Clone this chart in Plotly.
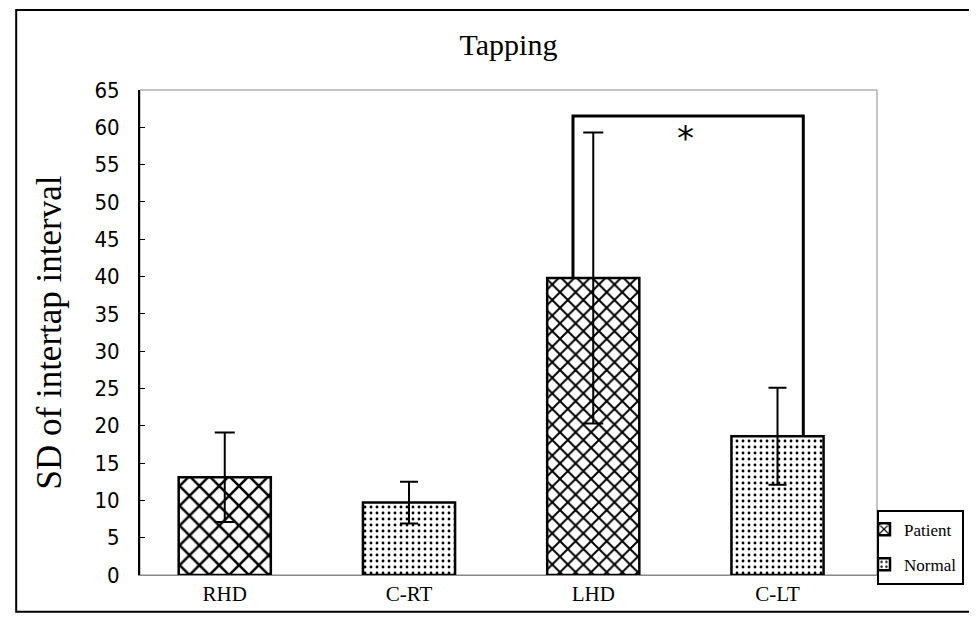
import plotly.graph_objects as go

categories = ["RHD", "C-RT", "LHD", "C-LT"]
patient_cats = ["RHD", "LHD"]
patient_vals = [13.1, 39.8]
patient_err = [6.0, 19.5]
normal_cats = ["C-RT", "C-LT"]
normal_vals = [9.7, 18.6]
normal_err = [2.8, 6.5]
y_ticks = list(range(0, 70, 5))
bracket_level = 61.5
star_label = "*"

serif = "Liberation Serif, Times New Roman, serif"
sans = "DejaVu Sans Condensed, Liberation Sans, Arial, sans-serif"

fig = go.Figure()
fig.add_trace(go.Bar(
    name="Patient", x=patient_cats, y=patient_vals, width=0.5,
    legendgroup="p",
    marker=dict(color="white", line=dict(color="black", width=2.5),
                pattern=dict(shape="x", fgcolor="black", bgcolor="white", fgopacity=1,
                             size=[14, 11], solidity=0.33, fillmode="overlay")),
    error_y=dict(type="data", array=patient_err, color="black", thickness=2, width=10),
))
fig.add_trace(go.Bar(
    name="Normal", x=normal_cats, y=normal_vals, width=0.5,
    legendgroup="n",
    marker=dict(color="white", line=dict(color="black", width=2.5),
                pattern=dict(shape=".", fgcolor="black", bgcolor="white", fgopacity=1,
                             size=6, solidity=0.18, fillmode="overlay")),
    error_y=dict(type="data", array=normal_err, color="black", thickness=2, width=9),
))

# significance bracket between LHD and C-LT
i_l = categories.index("LHD")
i_r = categories.index("C-LT")
lhd_v = patient_vals[patient_cats.index("LHD")]
clt_v = normal_vals[normal_cats.index("C-LT")]
fig.add_shape(type="path", xref="x", yref="y",
              path=f"M {i_l-0.11},{lhd_v} L {i_l-0.11},{bracket_level} L {i_r+0.14},{bracket_level} L {i_r+0.14},{clt_v}",
              line=dict(color="black", width=3))
fig.add_annotation(x=(i_l + i_r) / 2, y=bracket_level, xref="x", yref="y",
                   text=star_label, showarrow=False, yanchor="top", yshift=0,
                   font=dict(family="DejaVu Sans, Arial, sans-serif", size=34, color="black"))

# plot area border (gray)
fig.add_shape(type="rect", xref="paper", yref="paper", x0=0, x1=1, y0=0, y1=1,
              line=dict(color="#888888", width=1), layer="below")
# outer frame
fig.add_shape(type="rect", xref="paper", yref="paper", x0=-0.168, x1=1.135, y0=-0.076, y1=1.165,
              line=dict(color="black", width=2))

fig.update_layout(
    width=969, height=612,
    margin=dict(l=132, r=100, t=82, b=45),
    paper_bgcolor="white", plot_bgcolor="white",
    title=dict(text="Tapping", x=0.5, xref="paper", xanchor="center",
               y=0.94, yanchor="middle",
               font=dict(family=serif, size=30, color="black")),
    showlegend=True,
    legend=dict(x=1.0, xanchor="left", y=-0.02, yanchor="bottom",
                bordercolor="black", borderwidth=2, bgcolor="white",
                font=dict(family=serif, size=17, color="black"),
                itemwidth=30, indentation=-15,
                traceorder="grouped", tracegroupgap=10),
    barmode="overlay",
)
fig.update_xaxes(type="category", categoryorder="array", categoryarray=categories,
                 range=[-0.46, 3.54], showline=True, linecolor="#888888", linewidth=1,
                 ticks="", showgrid=False,
                 tickfont=dict(family=serif, size=21, color="black"))
fig.update_yaxes(range=[0, 65], tickvals=y_ticks, ticks="inside", ticklen=5,
                 tickcolor="black", showline=True, linecolor="black", linewidth=2,
                 showgrid=False, zeroline=False, ticklabelstandoff=14,
                 tickfont=dict(family=sans, size=22, color="black"),
                 title=dict(text="SD of intertap interval",
                            font=dict(family=serif, size=35, color="black"), standoff=22))

fig.write_html("out.html")
